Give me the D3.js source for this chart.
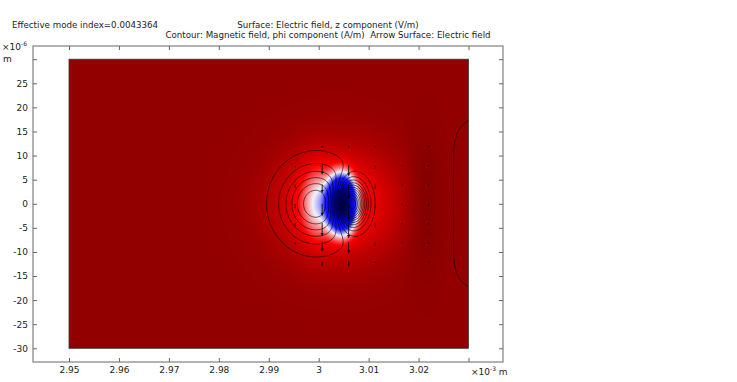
<!DOCTYPE html>
<html>
<head>
<meta charset="utf-8">
<script src="https://cdn.jsdelivr.net/npm/d3@7"></script>
<style>
  body { margin: 0; background: #fff; }
  svg text { font-family: "DejaVu Sans", sans-serif; fill: #222; }
</style>
</head>
<body>
<svg id="chart" width="737" height="382"></svg>
<script>
// ---- ticks ----
const xTicks = [2.95, 2.96, 2.97, 2.98, 2.99, 3.00, 3.01, 3.02, 3.03];
const xTickLabels = ["2.95", "2.96", "2.97", "2.98", "2.99", "3", "3.01", "3.02", ""];
const yTicks = [-30, -25, -20, -15, -10, -5, 0, 5, 10, 15, 20, 25, 30];
const yTickLabels = ["-30", "-25", "-20", "-15", "-10", "-5", "0", "5", "10", "15", "20", "25", ""];

// ---- geometry (domain rectangle, x in 1e-3 m, y in 1e-6 m) ----
const domainX = [2.95, 3.03];
const domainY = [-30, 30];

// ---- surface: Ez, built from features ----
// value 1 = background dark red, 0 = white, negative = blue
const surfBase = 1;
const surfCx  = [3.0015, 3.0100, 2.9998, 3.0046, 3.0055, 3.0215];
const surfCy  = [0, 0, 0, 0, 0, 0];
const surfRx  = [0.0100, 0.0080, 0.0032, 0.0031, 0.0018, 0.0030];
const surfRy  = [10.5, 11, 7.5, 6.7, 4.0, 15];
const surfAmp = [-0.55, -0.2, -0.5, -1.4, -0.4, 0.15];
const surfPow = [2, 2, 2, 3, 2, 2];

const colorStops  = [-1.6, -1.0, -0.4, 0, 0.5, 1.0, 1.3];
const colorValues = ["#000060", "#0000d0", "#1a1aff", "#f2f2f6", "#ff0000", "#930000", "#700000"];

// ---- contour: H phi, features ----
const contCx  = [2.9995, 3.0065, 3.038];
const contCy  = [0, 0, 0];
const contRx  = [0.0062, 0.0028, 0.009];
const contRy  = [6.9, 4.3, 18];
const contAmp = [0.65, -1.3, 0.223];
const contPx  = [2, 2, 2];
const contPy  = [2, 2, 8];
const contourLevels = [-1.25, -1.15, -1.05, -0.95, -0.85, -0.75, -0.65, -0.55, -0.45, -0.35, -0.25, -0.15, -0.05,
                       0.05, 0.15, 0.25, 0.35, 0.45, 0.55];

// ---- arrows: electric field (length in 1e-6 m, pointing -y) ----
const arrowColX = [2.9953, 3.0007, 3.0060, 3.0113, 3.0167, 3.0220];
const arrowRowY = [12, 8, 4, 0, -4, -8, -12];
const arrowLen = [
  [0.0, 0.4, 0.4, 0.3, 0.0, 0.3],
  [0.5, 2.0, 2.4, 0.8, 0.2, 0.4],
  [0.8, 1.8, 3.0, 1.0, 0.3, 0.4],
  [1.0, 2.6, 3.6, 1.0, 0.3, 0.4],
  [0.8, 2.8, 3.2, 1.0, 0.3, 0.4],
  [0.5, 2.0, 2.4, 0.8, 0.2, 0.4],
  [0.0, 1.0, 1.0, 0.4, 0.0, 0.3]
];

const frame = {left: 33, right: 503, top: 46, bottom: 362};

const svg = d3.select('#chart');

const x = d3.scaleLinear().domain(domainX).range([69, 468.5]);
const y = d3.scaleLinear().domain(domainY).range([348.3, 59.2]);

function featureSum(px, py, cx, cy, rx, ry, amp, pwx, pwy) {
  let s = 0;
  for (let k = 0; k < cx.length; k++) {
    const dx = Math.abs((px - cx[k]) / rx[k]);
    const dy = Math.abs((py - cy[k]) / ry[k]);
    const ex = pwx[k], ey = (pwy || pwx)[k];
    let r;
    if (ex === ey) r = Math.pow(dx * dx + dy * dy, ex / 2);
    else r = Math.pow(dx, ex) + Math.pow(dy, ey);
    s += amp[k] * Math.exp(-r);
  }
  return s;
}

// ---- surface image ----
const color = d3.scaleLinear().domain(colorStops).range(colorValues).clamp(true);
const cw = Math.round(x(domainX[1]) - x(domainX[0]));
const ch = Math.round(y(domainY[0]) - y(domainY[1]));
const canvas = document.createElement('canvas');
canvas.width = cw; canvas.height = ch;
const ctx = canvas.getContext('2d');
const img = ctx.createImageData(cw, ch);
for (let j = 0; j < ch; j++) {
  const yv = y.invert(y(domainY[1]) + (j + 0.5) * (y(domainY[0]) - y(domainY[1])) / ch);
  for (let i = 0; i < cw; i++) {
    const xv = x.invert(x(domainX[0]) + (i + 0.5) * (x(domainX[1]) - x(domainX[0])) / cw);
    const v = surfBase + featureSum(xv, yv, surfCx, surfCy, surfRx, surfRy, surfAmp, surfPow);
    const c = d3.rgb(color(v));
    const o = (j * cw + i) * 4;
    img.data[o] = c.r; img.data[o + 1] = c.g; img.data[o + 2] = c.b; img.data[o + 3] = 255;
  }
}
ctx.putImageData(img, 0, 0);

svg.append('defs').append('clipPath').attr('id', 'dom')
  .append('rect')
  .attr('x', x(domainX[0])).attr('y', y(domainY[1]))
  .attr('width', x(domainX[1]) - x(domainX[0]))
  .attr('height', y(domainY[0]) - y(domainY[1]));

svg.append('image')
  .attr('x', x(domainX[0])).attr('y', y(domainY[1]))
  .attr('width', x(domainX[1]) - x(domainX[0]))
  .attr('height', y(domainY[0]) - y(domainY[1]))
  .attr('preserveAspectRatio', 'none')
  .attr('href', canvas.toDataURL());

// ---- contours ----
const gx0 = 2.94, gx1 = 3.04, gy0 = -34, gy1 = 34;
const nx = 500, ny = 340;
const values = new Float64Array(nx * ny);
for (let j = 0; j < ny; j++) {
  const yv = gy1 - (j + 0.5) * (gy1 - gy0) / ny;
  for (let i = 0; i < nx; i++) {
    const xv = gx0 + (i + 0.5) * (gx1 - gx0) / nx;
    values[j * nx + i] = featureSum(xv, yv, contCx, contCy, contRx, contRy, contAmp, contPx, contPy);
  }
}
const contours = d3.contours().size([nx, ny]).thresholds(contourLevels)(values);
const proj = d3.geoTransform({
  point: function(gx, gy) {
    this.stream.point(x(gx0 + gx * (gx1 - gx0) / nx), y(gy1 - gy * (gy1 - gy0) / ny));
  }
});
svg.append('g')
  .attr('clip-path', 'url(#dom)')
  .selectAll('path')
  .data(contours)
  .enter()
  .append('path')
  .attr('d', d3.geoPath(proj))
  .attr('fill', 'none')
  .attr('stroke', '#000')
  .attr('stroke-opacity', 0.75)
  .attr('stroke-width', 0.8);

// ---- arrows ----
const arrows = [];
arrowRowY.forEach((ry, r) => {
  arrowColX.forEach((cx, c) => {
    if (arrowLen[r][c] > 0) arrows.push({x: cx, y: ry, len: arrowLen[r][c]});
  });
});
const ag = svg.append('g').attr('clip-path', 'url(#dom)');
arrows.forEach(a => {
  const x1 = x(a.x), y1 = y(a.y), y2 = y(a.y - a.len);
  const L = y2 - y1;
  const hw = Math.min(1.6, L * 0.18), hl = Math.min(3.5, L * 0.35);
  ag.append('line')
    .attr('x1', x1).attr('y1', y1).attr('x2', x1).attr('y2', y2 - hl * 0.6)
    .attr('stroke', '#000').attr('stroke-width', 1).attr('stroke-opacity', 0.8);
  ag.append('path')
    .attr('d', `M${x1 - hw},${y2 - hl}L${x1 + hw},${y2 - hl}L${x1},${y2}Z`)
    .attr('fill', '#000').attr('fill-opacity', 0.8);
});

// domain outline
svg.append('rect')
  .attr('x', x(domainX[0])).attr('y', y(domainY[1]))
  .attr('width', x(domainX[1]) - x(domainX[0]))
  .attr('height', y(domainY[0]) - y(domainY[1]))
  .attr('fill', 'none').attr('stroke', '#3a3a3a').attr('stroke-width', 0.8);

// ---- axes frame ----
svg.append('rect')
  .attr('x', frame.left).attr('y', frame.top)
  .attr('width', frame.right - frame.left).attr('height', frame.bottom - frame.top)
  .attr('fill', 'none').attr('stroke', '#666').attr('stroke-width', 1);

function styleAxis(g) {
  g.select('.domain').remove();
  g.selectAll('line').attr('stroke', '#666');
  g.selectAll('text').style('font-size', '9px').attr('fill', '#222');
}

svg.append('g')
  .attr('transform', `translate(0,${frame.bottom})`)
  .call(d3.axisBottom(x).tickValues(xTicks).tickSize(-4).tickPadding(5)
    .tickFormat((d, i) => xTickLabels[i]))
  .call(styleAxis);
svg.append('g')
  .attr('transform', `translate(0,${frame.top})`)
  .call(d3.axisTop(x).tickValues(xTicks).tickSize(-4).tickFormat(''))
  .call(styleAxis);
svg.append('g')
  .attr('transform', `translate(${frame.left},0)`)
  .call(d3.axisLeft(y).tickValues(yTicks).tickSize(-4).tickPadding(5)
    .tickFormat((d, i) => yTickLabels[i]))
  .call(styleAxis);
svg.append('g')
  .attr('transform', `translate(${frame.right},0)`)
  .call(d3.axisRight(y).tickValues(yTicks).tickSize(-4).tickFormat(''))
  .call(styleAxis);

// ---- unit labels ----
const yUnit = svg.append('text').attr('x', 2).attr('y', 50).style('font-size', '9px');
yUnit.append('tspan').text('×10');
yUnit.append('tspan').attr('dy', -4).style('font-size', '6px').text('-6');
svg.append('text').attr('x', 3).attr('y', 62).style('font-size', '9px').text('m');

const xUnit = svg.append('text').attr('x', 471).attr('y', 375).style('font-size', '9px');
xUnit.append('tspan').text('×10');
xUnit.append('tspan').attr('dy', -4).style('font-size', '6px').text('-3');
xUnit.append('tspan').attr('dy', 4).text('\u00a0m');

// ---- titles ----
svg.append('text').attr('x', 12).attr('y', 28).style('font-size', '8.7px')
  .text('Effective mode index=0.0043364');
svg.append('text').attr('x', 328).attr('y', 28).attr('text-anchor', 'middle').style('font-size', '8.7px')
  .text('Surface: Electric field, z component (V/m)');
svg.append('text').attr('x', 328).attr('y', 38).attr('text-anchor', 'middle').style('font-size', '8.7px')
  .text('Contour: Magnetic field, phi component (A/m)\u00a0\u00a0Arrow Surface: Electric field');
</script>
</body>
</html>
